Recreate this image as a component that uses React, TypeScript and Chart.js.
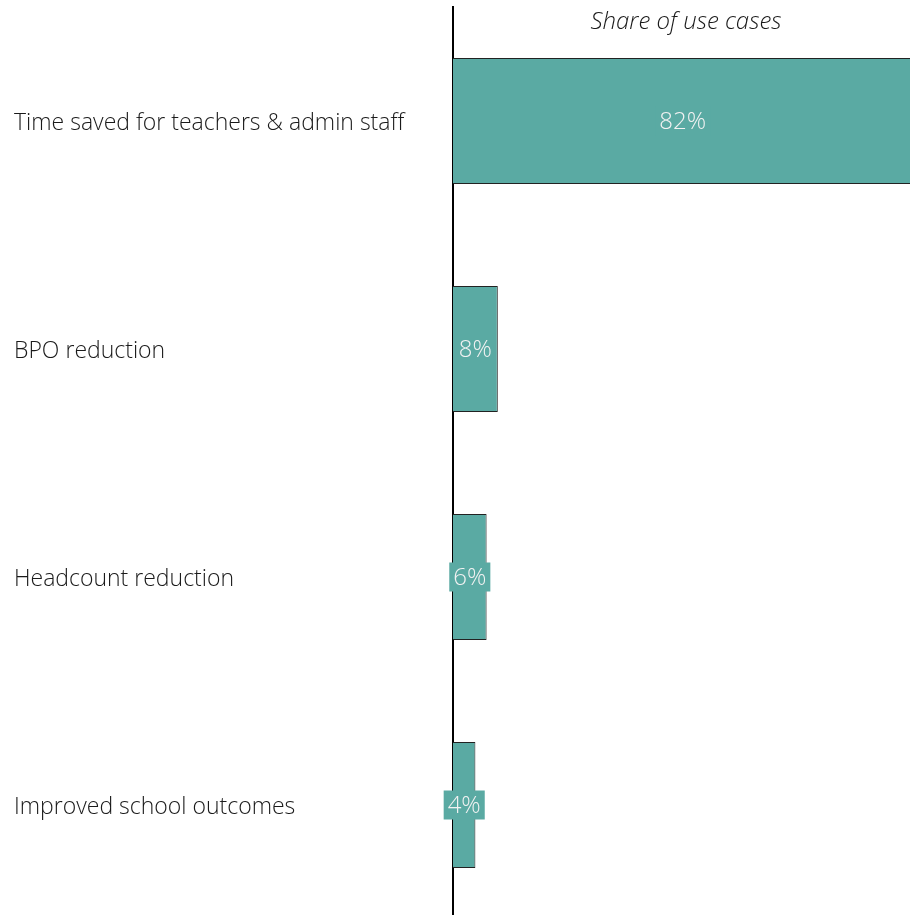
import React, { useEffect, useRef } from "react";
import { Chart, registerables } from "chart.js";

Chart.register(...registerables);

const categories = [
  "Time saved for teachers & admin staff",
  "BPO reduction",
  "Headcount reduction",
  "Improved school outcomes",
];
const values = [82, 8, 6, 4];
const valueLabels = ["82%", "8%", "6%", "4%"];
const titleText = "Share of use cases";

const TEAL = "#5aaaa3";
const FONT = "'Open Sans', 'Segoe UI', sans-serif";

const labelPlugin = {
  id: "barLabels",
  afterDatasetsDraw(chart: any) {
    const ctx = chart.ctx;
    const meta = chart.getDatasetMeta(0);
    ctx.save();
    ctx.font = `300 24px ${FONT}`;
    ctx.textAlign = "center";
    ctx.textBaseline = "middle";
    meta.data.forEach((bar: any, i: number) => {
      const txt = valueLabels[i];
      const cx = (bar.x + bar.base) / 2;
      const cy = bar.y;
      const w = ctx.measureText(txt).width + 8;
      const h = 29;
      ctx.fillStyle = TEAL;
      ctx.fillRect(cx - w / 2, cy - h / 2, w, h);
      ctx.fillStyle = "#f2f2f2";
      ctx.fillText(txt, cx, cy + 1);
    });
    ctx.restore();
  },
};

const titlePlugin = {
  id: "topTitle",
  afterDraw(chart: any) {
    const ctx = chart.ctx;
    const a = chart.chartArea;
    ctx.save();
    ctx.font = `italic 300 24px ${FONT}`;
    ctx.fillStyle = "#1a1a1a";
    ctx.textAlign = "center";
    ctx.textBaseline = "middle";
    ctx.fillText(titleText, (a.left + a.right) / 2, 22);
    ctx.restore();
  },
};

export default function App() {
  const ref = useRef<HTMLCanvasElement>(null);
  useEffect(() => {
    const canvas = ref.current;
    if (!canvas) return;
    const chart = new Chart(canvas, {
      type: "bar",
      data: {
        labels: categories,
        datasets: [
          {
            data: values,
            backgroundColor: TEAL,
            borderColor: "#222222",
            borderWidth: 1,
            barPercentage: 1,
            categoryPercentage: 0.553,
          },
        ],
      },
      options: {
        indexAxis: "y",
        animation: false,
        responsive: false,
        maintainAspectRatio: false,
        layout: { padding: { left: 14, top: 7, right: 0, bottom: 0 } },
        plugins: {
          legend: { display: false },
          tooltip: { enabled: false },
          title: { display: false },
        },
        scales: {
          x: {
            display: false,
            min: 0,
            max: 83.2,
            grid: { display: false },
          },
          y: {
            grid: { display: false, drawTicks: false },
            border: { display: true, color: "#000000", width: 2 },
            ticks: {
              crossAlign: "far",
              padding: 0,
              labelOffset: 2,
              color: "#1a1a1a",
              font: { family: FONT, size: 23, weight: 300 },
            },
            afterFit(scale: any) {
              scale.width = 439;
              scale.paddingTop = 0;
              scale.paddingBottom = 0;
            },
          },
        },
      },
      plugins: [labelPlugin, titlePlugin],
    });
    return () => chart.destroy();
  }, []);
  return (
    <div style={{ position: "fixed", left: 0, top: 0, width: 910, height: 915, overflow: "hidden", background: "#fff" }}>
      <canvas ref={ref} width={919} height={919} style={{ width: 919, height: 919, display: "block" }} />
    </div>
  );
}
